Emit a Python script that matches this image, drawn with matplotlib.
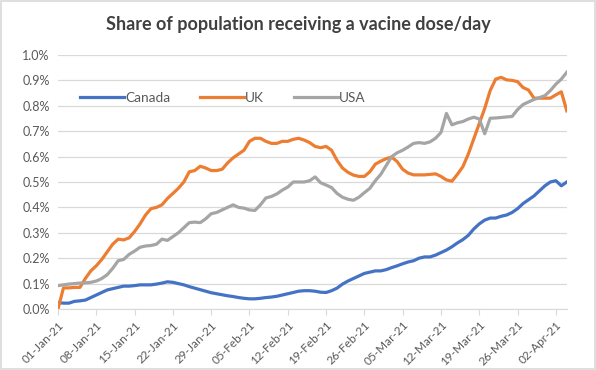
import numpy as np
import pandas as pd
import matplotlib
matplotlib.use('Agg')
import matplotlib.pyplot as plt
import matplotlib.dates as mdates
from matplotlib.patches import Rectangle
from matplotlib.ticker import FuncFormatter, MultipleLocator

plt.rcParams['font.family'] = ['Lato', 'DejaVu Sans']

# daily share of population receiving a dose (%), 01-Jan-21 .. 04-Apr-21
canada = [0.025, 0.023, 0.023, 0.030, 0.032, 0.035, 0.045, 0.055, 0.065, 0.075,
          0.080, 0.085, 0.090, 0.090, 0.092, 0.095, 0.095, 0.095, 0.098, 0.102,
          0.107, 0.105, 0.100, 0.095, 0.088, 0.082, 0.076, 0.070, 0.064, 0.060,
          0.056, 0.052, 0.049, 0.045, 0.042, 0.040, 0.040, 0.042, 0.045, 0.047,
          0.050, 0.055, 0.060, 0.065, 0.070, 0.072, 0.072, 0.070, 0.066, 0.065,
          0.072, 0.082, 0.098, 0.110, 0.120, 0.130, 0.140, 0.145, 0.150, 0.150,
          0.155, 0.163, 0.170, 0.178, 0.185, 0.190, 0.200, 0.205, 0.205, 0.212,
          0.222, 0.232, 0.245, 0.260, 0.273, 0.290, 0.315, 0.335, 0.350, 0.358,
          0.358, 0.365, 0.370, 0.380, 0.395, 0.415, 0.430, 0.445, 0.465, 0.485,
          0.500, 0.505, 0.485, 0.500]
uk = [0.000, 0.083, 0.083, 0.085, 0.085, 0.120, 0.150, 0.170, 0.195, 0.225,
      0.255, 0.275, 0.272, 0.280, 0.305, 0.335, 0.370, 0.395, 0.400, 0.410,
      0.435, 0.455, 0.475, 0.500, 0.540, 0.545, 0.562, 0.555, 0.545, 0.545,
      0.550, 0.575, 0.595, 0.610, 0.625, 0.660, 0.672, 0.672, 0.660, 0.652,
      0.652, 0.660, 0.660, 0.668, 0.672, 0.665, 0.655, 0.640, 0.635, 0.640,
      0.625, 0.585, 0.555, 0.538, 0.527, 0.522, 0.522, 0.540, 0.570, 0.582,
      0.592, 0.598, 0.580, 0.550, 0.535, 0.528, 0.528, 0.528, 0.530, 0.532,
      0.522, 0.508, 0.503, 0.530, 0.560, 0.610, 0.670, 0.730, 0.790, 0.860,
      0.905, 0.912, 0.902, 0.900, 0.895, 0.872, 0.862, 0.830, 0.830, 0.830,
      0.830, 0.843, 0.855, 0.780]
usa = [0.092, 0.095, 0.098, 0.100, 0.102, 0.103, 0.105, 0.110, 0.120, 0.135,
       0.160, 0.190, 0.195, 0.215, 0.228, 0.243, 0.248, 0.250, 0.255, 0.275,
       0.270, 0.285, 0.300, 0.320, 0.340, 0.342, 0.340, 0.355, 0.375, 0.380,
       0.390, 0.400, 0.410, 0.400, 0.397, 0.390, 0.388, 0.410, 0.437, 0.443,
       0.453, 0.468, 0.480, 0.500, 0.500, 0.500, 0.505, 0.520, 0.497, 0.488,
       0.478, 0.455, 0.440, 0.432, 0.428, 0.440, 0.458, 0.475, 0.505, 0.530,
       0.565, 0.600, 0.615, 0.625, 0.638, 0.652, 0.655, 0.652, 0.658, 0.672,
       0.695, 0.770, 0.725, 0.733, 0.738, 0.748, 0.755, 0.748, 0.690, 0.751,
       0.752, 0.754, 0.756, 0.758, 0.785, 0.805, 0.815, 0.825, 0.832, 0.840,
       0.860, 0.885, 0.905, 0.932]

dates = pd.date_range('2021-01-01', periods=len(canada), freq='D')

fig = plt.figure(figsize=(5.96, 3.70), dpi=100)
ax = fig.add_axes([0.0973, 0.1649, 0.8537, 0.6865])

ax.plot(dates, canada, color='#4472C4', lw=2.3, label='Canada')
ax.plot(dates, uk, color='#ED7D31', lw=2.3, label='UK')
ax.plot(dates, usa, color='#A5A5A5', lw=2.3, label='USA')

ax.set_xlim(dates[0], dates[-1])
ax.set_ylim(0, 1.0)
ax.yaxis.set_major_locator(MultipleLocator(0.1))
ax.yaxis.set_major_formatter(FuncFormatter(lambda v, p: f'{v:.1f}%'))
ax.set_xticks(pd.date_range('2021-01-01', '2021-04-02', freq='7D'))
ax.xaxis.set_major_formatter(mdates.DateFormatter('%d-%b-%y'))
plt.setp(ax.get_xticklabels(), rotation=45, ha='right', rotation_mode='anchor')

ax.grid(axis='y', color='#D9D9D9', lw=0.9)
ax.set_axisbelow(True)
for s in ['top', 'right', 'left']:
    ax.spines[s].set_visible(False)
ax.spines['bottom'].set_color('#D9D9D9')
ax.tick_params(axis='y', length=0, labelsize=9, colors='#595959', pad=6)
ax.tick_params(axis='x', length=4, color='#D9D9D9', labelsize=8.5, labelcolor='#595959')

ax.legend(loc='center left', bbox_to_anchor=(0.02, 0.83), ncol=3, frameon=False,
          fontsize=9.8, labelcolor='#595959', handlelength=3.2, handletextpad=0.1,
          columnspacing=2.2)

fig.text(0.5, 0.935, 'Share of population receiving a vacine dose/day', ha='center',
         va='center', fontsize=13, fontweight='bold', color='#404040')

fig.patches.append(Rectangle((0.001, 0.002), 0.997, 0.995, transform=fig.transFigure,
                             fill=False, edgecolor='#D9D9D9', lw=1.2))

fig.savefig('out.png', dpi=100)
